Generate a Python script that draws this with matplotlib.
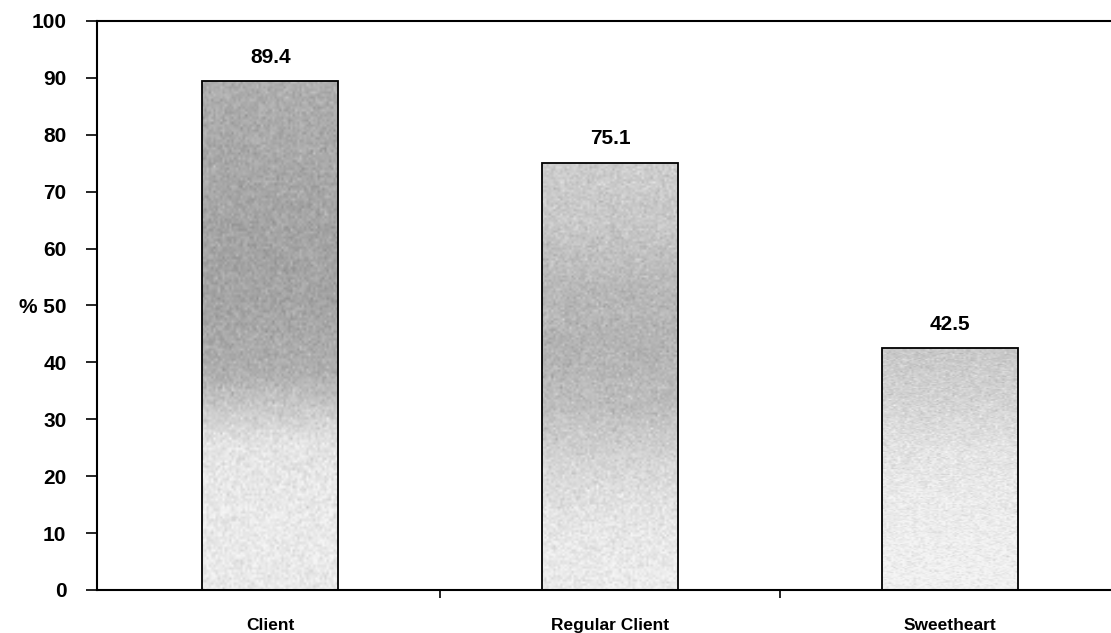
import numpy as np
import matplotlib
matplotlib.use("Agg")
import matplotlib.pyplot as plt
from matplotlib.colors import LinearSegmentedColormap

categories = ["Client", "Regular Client", "Sweetheart"]
values = [89.4, 75.1, 42.5]
yticks = [0, 10, 20, 30, 40, 50, 60, 70, 80, 90, 100]
ytick_labels = ["0", "10", "20", "30", "40", "% 50", "60", "70", "80", "90", "100"]

plt.rcParams['font.family'] = ['Liberation Sans', 'DejaVu Sans']

fig = plt.figure(figsize=(11.11, 6.33), dpi=100)
ax = fig.add_axes([0.0873, 0.068, 0.918, 0.899])

x = np.arange(len(categories))
bars = ax.bar(x, values, width=0.4, color='none', edgecolor='black', linewidth=1.3, zorder=3)

# gradient shading profiles (darkness along bar height, bottom -> top)
profiles = [
    [0.12, 0.12, 0.18, 0.7, 0.8, 0.8, 0.75, 0.7],
    [0.1, 0.15, 0.3, 0.55, 0.65, 0.6, 0.45, 0.4],
    [0.05, 0.08, 0.12, 0.2, 0.35, 0.45],
]
cmap = LinearSegmentedColormap.from_list("g", ["#f6f6f6", "#909090"])
rng = np.random.default_rng(3)
for b, prof in zip(bars, profiles):
    h = b.get_height()
    n = 200
    t = np.linspace(0, 1, n)
    d = np.interp(t, np.linspace(0, 1, len(prof)), prof)
    img = np.tile(d[:, None], (1, 60)) + rng.normal(0, 0.08, (n, 60))
    im = ax.imshow(np.clip(img, 0, 1), cmap=cmap, vmin=0, vmax=1, origin='lower',
                   extent=[b.get_x(), b.get_x() + b.get_width(), 0, h],
                   aspect='auto', zorder=2, interpolation='bilinear')
    im.set_clip_path(b)
    ax.text(b.get_x() + b.get_width() / 2, h + 2.5, f"{h:.1f}", ha='center', va='bottom',
            fontsize=15, fontweight='bold')

ax.set_xlim(-0.51, len(categories) - 0.51)
ax.set_ylim(0, 100)
ax.set_yticks(yticks)
ax.set_yticklabels(ytick_labels, fontsize=15, fontweight='bold')
ax.set_xticks(x)
ax.set_xticklabels(categories, fontsize=12.5, fontweight='bold')
ax.set_xticks([0.5, 1.5], minor=True)
ax.tick_params(axis='x', which='major', length=0, pad=20)
ax.tick_params(axis='x', which='minor', length=6, width=1.2, direction='out')
ax.tick_params(axis='y', length=8, width=1.2, direction='out', pad=14)
for s in ['left', 'top', 'bottom']:
    ax.spines[s].set_linewidth(1.5)
ax.spines['right'].set_visible(False)

fig.savefig("out.png", dpi=100)
